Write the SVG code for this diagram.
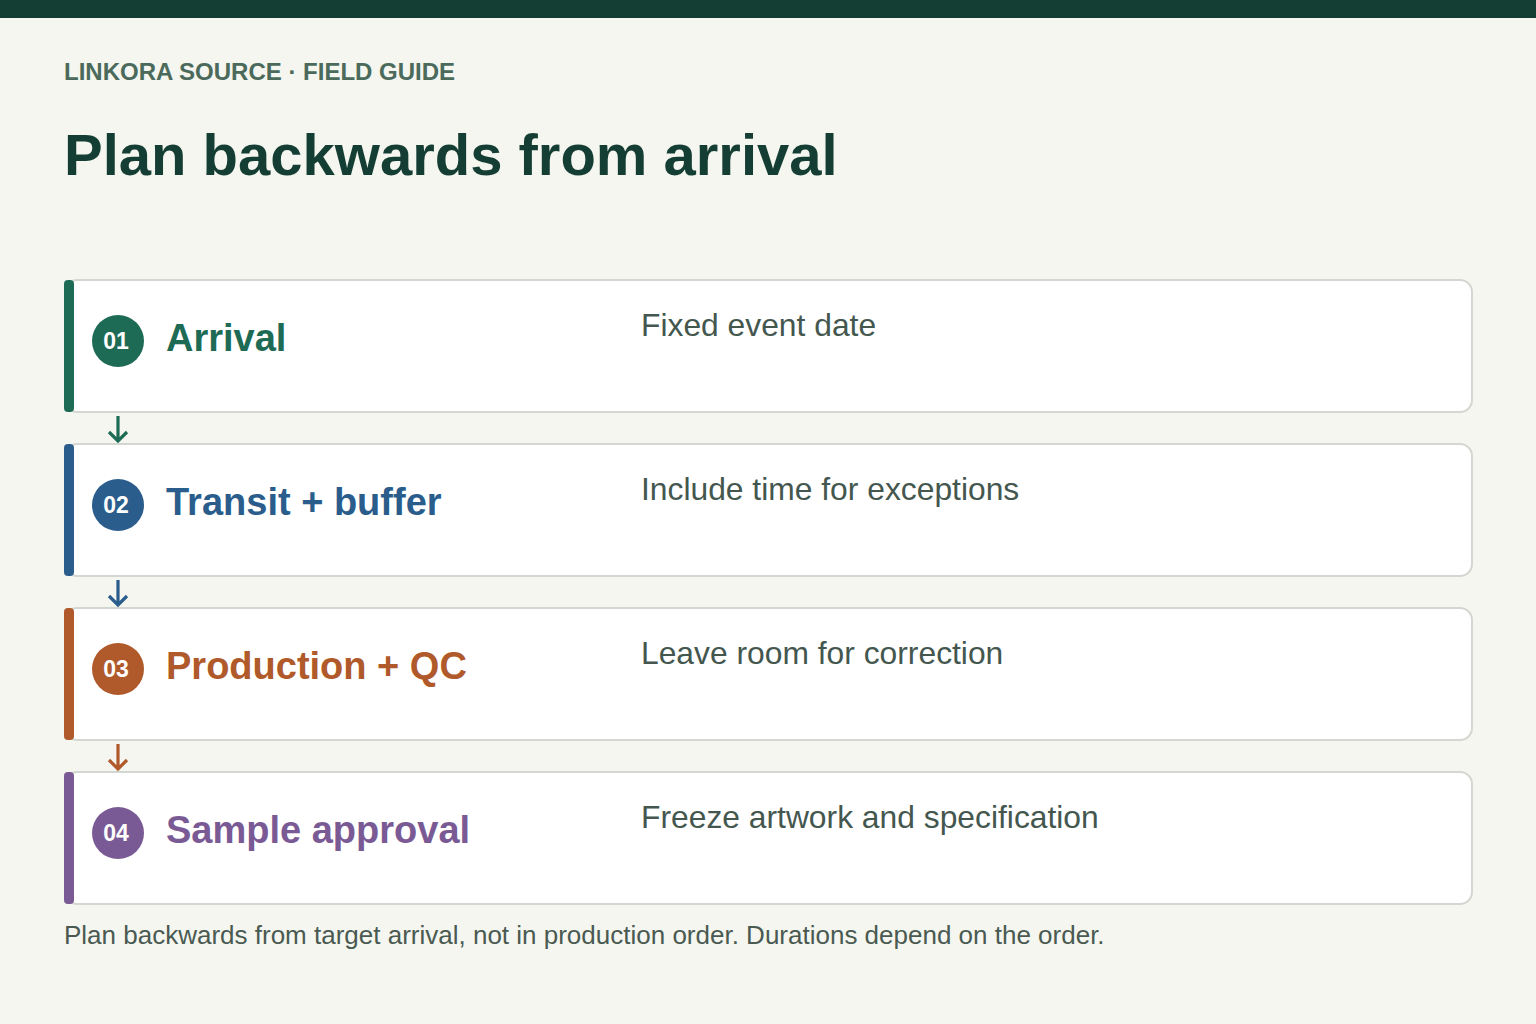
<svg xmlns="http://www.w3.org/2000/svg" width="1536" height="1024" viewBox="0 0 1536 1024">
<defs>
<style>
.bg{fill:#f4f6ef}
.card{fill:#ffffff;stroke:#d4d7d1;stroke-width:2}
.num{font-family:"Liberation Sans",Arial,sans-serif;font-weight:bold;font-size:23px;fill:#ffffff;text-anchor:middle}
.ttl{font-family:"Liberation Sans",Arial,sans-serif;font-weight:bold;font-size:38px}
.desc{font-family:"Liberation Sans",Arial,sans-serif;font-size:31.8px;fill:#44574f}
.arr{fill:none;stroke-width:3.2;stroke-linecap:butt}
</style>
</defs>
<rect class="bg" x="0" y="0" width="1536" height="1024"/>
<rect x="0" y="0" width="1536" height="18" fill="#143d33"/>
<text x="64" y="80" font-family="Liberation Sans,Arial,sans-serif" font-weight="bold" font-size="24" fill="#4b6a5b">LINKORA SOURCE · FIELD GUIDE</text>
<text x="64" y="175" font-family="Liberation Sans,Arial,sans-serif" font-weight="bold" font-size="58" fill="#143d33">Plan backwards from arrival</text>

<g id="node-01">
<rect class="card" x="65" y="280" width="1407" height="132" rx="12"/>
<rect x="64" y="280" width="10" height="132" rx="4" fill="#1e6b55"/>
<circle cx="118" cy="341" r="26" fill="#1e6b55"/>
<text class="num" x="116" y="349">01</text>
<text class="ttl" x="166" y="351" fill="#1e6b55">Arrival</text>
<text class="desc" x="641" y="336">Fixed event date</text>
</g>
<g id="node-02">
<rect class="card" x="65" y="444" width="1407" height="132" rx="12"/>
<rect x="64" y="444" width="10" height="132" rx="4" fill="#2a5d8c"/>
<circle cx="118" cy="505" r="26" fill="#2a5d8c"/>
<text class="num" x="116" y="513">02</text>
<text class="ttl" x="166" y="515" fill="#2a5d8c">Transit + buffer</text>
<text class="desc" x="641" y="500">Include time for exceptions</text>
</g>
<g id="node-03">
<rect class="card" x="65" y="608" width="1407" height="132" rx="12"/>
<rect x="64" y="608" width="10" height="132" rx="4" fill="#b0592a"/>
<circle cx="118" cy="669" r="26" fill="#b0592a"/>
<text class="num" x="116" y="677">03</text>
<text class="ttl" x="166" y="679" fill="#b0592a">Production + QC</text>
<text class="desc" x="641" y="664">Leave room for correction</text>
</g>
<g id="node-04">
<rect class="card" x="65" y="772" width="1407" height="132" rx="12"/>
<rect x="64" y="772" width="10" height="132" rx="4" fill="#7a5a94"/>
<circle cx="118" cy="833" r="26" fill="#7a5a94"/>
<text class="num" x="116" y="841">04</text>
<text class="ttl" x="166" y="843" fill="#7a5a94">Sample approval</text>
<text class="desc" x="641" y="828">Freeze artwork and specification</text>
</g>

<g id="connectors">
<path class="arr" stroke="#1e6b55" d="M118 416 V441 M109 432 L118 441 L127 432"/>
<path class="arr" stroke="#2a5d8c" d="M118 580 V605 M109 596 L118 605 L127 596"/>
<path class="arr" stroke="#b0592a" d="M118 744 V769 M109 760 L118 769 L127 760"/>
</g>

<text x="64" y="944" font-family="Liberation Sans,Arial,sans-serif" font-size="26" fill="#4a5a52">Plan backwards from target arrival, not in production order. Durations depend on the order.</text>
</svg>
